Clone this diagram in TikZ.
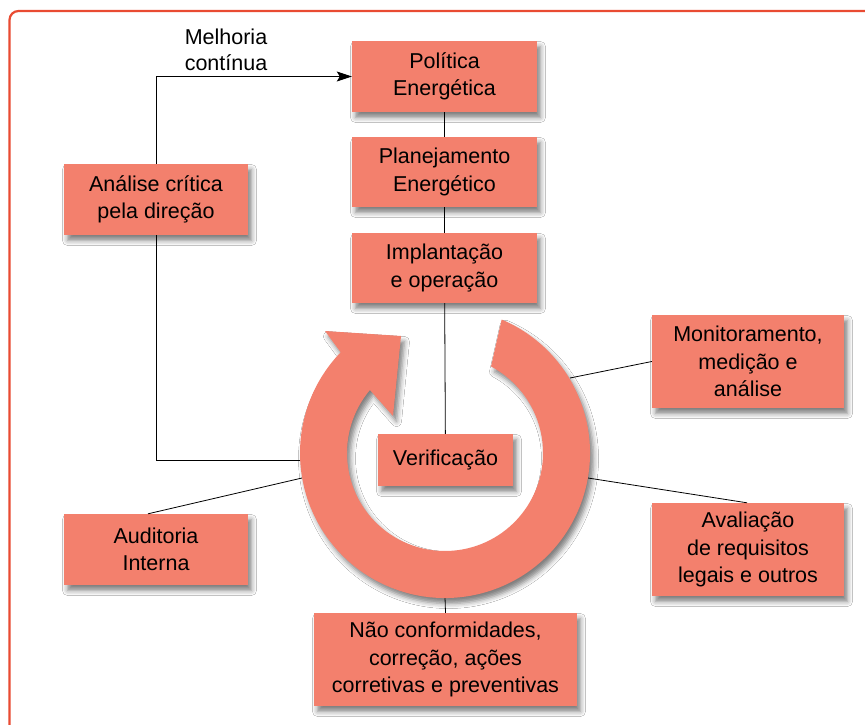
\documentclass[tikz,border=0pt]{standalone}
\usepackage{fontspec}
\setmainfont{Liberation Sans}
\usetikzlibrary{calc,shadows.blur,arrows.meta}
\definecolor{boxfill}{HTML}{F3806D}
\definecolor{framecol}{HTML}{E94B32}
\tikzset{
  softshadow/.style={blur shadow={shadow xshift=3.5pt, shadow yshift=-5.5pt, shadow blur radius=5pt, shadow opacity=50}},
  stepbox/.style={fill=boxfill, draw=none, align=center, inner sep=0pt,
    font=\fontsize{21.5}{27.5}\selectfont, softshadow},
  link/.style={draw=black, line width=0.8pt},
  plain/.style={align=center, font=\fontsize{21.5}{26.5}\selectfont},
}
\begin{document}
\begin{tikzpicture}[x=1pt,y=1pt]
  \useasboundingbox (0,0) rectangle (865,-725);
  \fill[white] (0,0) rectangle (865,-725);
  % outer frame
  \draw[framecol, line width=2.2pt, rounded corners=9pt] (9.5,-11) rectangle (885,-745);

  % ring geometry
  \coordinate (C) at (445,-453);
  \coordinate (ringS) at (445,-597);
  \coordinate (ringMon) at (570,-378);
  \coordinate (ringAval) at (588,-478);
  \coordinate (ringAud) at (302,-478);
  \coordinate (ringAn) at (300,-460);

  % boxes
  \node[stepbox, minimum width=185pt, minimum height=71pt] (pol) at (444.5,-76.5) {Política\\Energética};
  \node[stepbox, minimum width=185pt, minimum height=70pt] (plan) at (444.5,-172) {Planejamento\\Energético};
  \node[stepbox, minimum width=185pt, minimum height=70pt] (impl) at (444.5,-268) {Implantação\\e operação};
  \node[stepbox, minimum width=184pt, minimum height=71pt] (anal) at (156,-199.5) {Análise crítica\\pela direção};
  \node[stepbox, minimum width=192pt, minimum height=93pt] (mon) at (748,-361.5) {Monitoramento,\\medição e\\análise};
  \node[stepbox, minimum width=192pt, minimum height=93pt] (aval) at (748,-549.5) {Avaliação\\de requisitos\\legais e outros};
  \node[stepbox, minimum width=184pt, minimum height=71pt] (aud) at (156,-549.5) {Auditoria\\Interna};
  \node[stepbox, minimum width=263pt, minimum height=93pt] (nao) at (445.5,-659.5) {Não conformidades,\\correção, ações\\corretivas e preventivas};
  \node[plain] (mel) at (226,-50) {Melhoria\\contínua};

  % connectors (drawn before the ring so it covers their inner ends)
  \draw[link] (pol) -- (plan);
  \draw[link] (plan) -- (impl);
  \draw[link] (ringMon) -- (mon.west);
  \draw[link] (ringAval) -- ([xshift=-1pt]aval.north);
  \draw[link] (ringAud) -- ([xshift=-8pt]aud.north);
  \draw[link] (ringS) -- (nao.north);
  \draw[link] (anal.south) |- (ringAn);
  \draw[link, -{Stealth[length=15pt,width=10pt,inset=3pt]}] (anal.north) |- (pol.west);

  % circular arrow
  \fill[boxfill, softshadow]
    ($(C)+(67:145)$) arc[start angle=67, end angle=-224, radius=145]
    -- (325,-331) -- (401,-336) -- (393,-416)
    -- ($(C)+(-220:98)$) arc[start angle=-220, end angle=62, radius=98] -- cycle;

  % verification box with its feed line
  \node[stepbox, minimum width=135pt, minimum height=52pt] (verif) at (445.5,-460) {Verificação};
  \draw[link] (impl) -- (verif);
\end{tikzpicture}
\end{document}
